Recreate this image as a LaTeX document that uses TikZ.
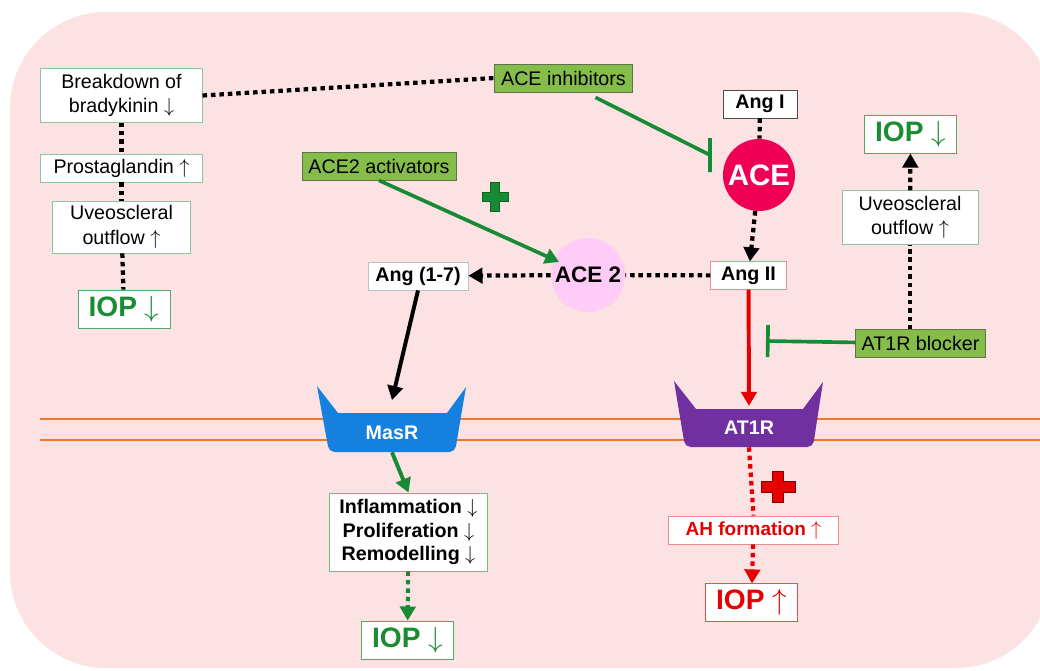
\documentclass[tikz,border=0pt]{standalone}
\usepackage{fontspec}
\setmainfont{Liberation Sans}
\usetikzlibrary{arrows.meta, calc}

\definecolor{bgPink}{RGB}{253,226,228}
\definecolor{drugGreen}{RGB}{134,189,74}
\definecolor{drugEdge}{RGB}{95,115,75}
\definecolor{lineGreen}{RGB}{22,138,52}
\definecolor{iopGreen}{RGB}{26,140,50}
\definecolor{boxEdge}{RGB}{140,195,160}
\definecolor{aceRed}{RGB}{240,0,84}
\definecolor{acePink}{RGB}{255,204,247}
\definecolor{masBlue}{RGB}{22,128,222}
\definecolor{atPurple}{RGB}{112,48,160}
\definecolor{pathRed}{RGB}{230,0,0}
\definecolor{redEdge}{RGB}{235,140,140}
\definecolor{membrane}{RGB}{240,120,40}

\newcommand{\arrDown}{~$\downarrow$}
\newcommand{\arrUp}{~$\uparrow$}

\begin{document}
\begin{tikzpicture}[
    x=0.025cm, y=-0.025cm,
    infoBox/.style = {draw=boxEdge, fill=white, rectangle, inner sep=0pt, align=center, line width=0.6pt, font=\fontsize{14}{17.5}\selectfont},
    angBox/.style = {infoBox, font=\fontsize{14}{17}\selectfont\bfseries},
    iopBox/.style = {infoBox, draw=iopGreen!75, text=iopGreen, font=\fontsize{20}{24}\selectfont\bfseries},
    drugBox/.style = {draw=drugEdge, fill=drugGreen, rectangle, inner sep=0pt, line width=0.6pt, font=\fontsize{14}{17}\selectfont},
    enzyme/.style = {circle, inner sep=0pt, font=\bfseries},
    receptor/.style = {rectangle, inner sep=0pt, text=white, font=\fontsize{14}{17}\selectfont\bfseries},
    dotLink/.style = {line width=3pt, dash pattern=on 3.2pt off 2.8pt},
    arrowHead/.style = {-{Triangle[length=10pt, width=11pt]}},
    inhibit/.style = {draw=lineGreen, line width=2.6pt},
    solidLink/.style = {line width=2.8pt}
]
\useasboundingbox (0,0) rectangle (1040,671);
\fill[bgPink, rounded corners=2.4cm] (10,12) rectangle (1052,668);

% membrane
\draw[membrane, line width=1.4pt] (40,419) -- (1040,419);
\draw[membrane, line width=1.4pt] (40,440) -- (1040,440);

% left column
\node(Breakdown)[infoBox, minimum width=4.03cm, minimum height=1.33cm] at (121.5,95.5) {Breakdown of\\bradykinin\arrDown};
\node(Prostaglandin)[infoBox, minimum width=4.03cm, minimum height=0.7cm] at (121.5,168) {Prostaglandin\arrUp};
\node(UveoLeft)[infoBox, minimum width=3.43cm, minimum height=1.3cm] at (121.5,227) {Uveoscleral\\outflow\arrUp};
\node(IopLeft)[iopBox, minimum width=2.3cm, minimum height=0.95cm] at (124,309) {IOP\arrDown};

\draw[dotLink] (Breakdown) -- (Prostaglandin);
\draw[dotLink] (Prostaglandin) -- (UveoLeft);
\draw[dotLink] (UveoLeft) -- (IopLeft);

% drugs
\node(AceInhibitors)[drugBox, minimum width=3.43cm, minimum height=0.7cm] at (563.5,78) {ACE inhibitors};
\node(Ace2Activators)[drugBox, minimum width=3.85cm, minimum height=0.7cm] at (379,166) {ACE2 activators};
\node(At1rBlocker)[drugBox, minimum width=3.23cm, minimum height=0.68cm] at (920.5,343.5) {AT1R blocker};

\draw[dotLink] (Breakdown.east) -- (AceInhibitors.west);

% enzymes and peptides
\node(AngI)[angBox, draw=black!70, minimum width=1.85cm, minimum height=0.7cm] at (760,104) {Ang I};
\node(Ace)[enzyme, fill=aceRed, text=white, minimum size=1.8cm, font=\fontsize{21}{24}\selectfont\bfseries] at (759,175) {ACE};
\node(AngII)[angBox, draw=redEdge, minimum width=1.88cm, minimum height=0.68cm] at (748.5,275.5) {Ang II};
\node(Ace2)[enzyme, fill=acePink, minimum size=1.85cm, font=\fontsize{16}{19}\selectfont\bfseries] at (588,275) {ACE 2};
\node(Ang17)[angBox, draw=black!25, minimum width=2.5cm, minimum height=0.7cm] at (418,276) {Ang (1-7)};

\draw[dotLink] (AngI) -- (Ace);
\draw[dotLink, arrowHead] (Ace) -- (AngII);
\draw[dotLink] (AngII) -- (Ace2);
\draw[dotLink, arrowHead] (Ace2) -- (Ang17);

\coordinate (AceBlock) at (710,155);
\draw[inhibit] ($(AceInhibitors.south)+(32,5)$) -- (AceBlock) ++(0,-17) -- ++(0,34);
\draw[inhibit, arrowHead, shorten >=-4pt] (Ace2Activators.south) -- (Ace2);

% plus signs
\fill[lineGreen, draw=lineGreen!70!black, line width=0.4pt, shift={(495,197)}]
    (-4.5,-14.5) -- (4.5,-14.5) -- (4.5,-4.5) -- (13,-4.5) -- (13,4.5) -- (4.5,4.5)
    -- (4.5,14.5) -- (-4.5,14.5) -- (-4.5,4.5) -- (-13,4.5) -- (-13,-4.5) -- (-4.5,-4.5) -- cycle;
\fill[pathRed, draw=pathRed!60!black, line width=0.4pt, shift={(778,487)}]
    (-5.5,-15.5) -- (5.5,-15.5) -- (5.5,-5.5) -- (17,-5.5) -- (17,5.5) -- (5.5,5.5)
    -- (5.5,15.5) -- (-5.5,15.5) -- (-5.5,5.5) -- (-17,5.5) -- (-17,-5.5) -- (-5.5,-5.5) -- cycle;

% receptors
\fill[masBlue] (317,386) -- (338,413) -- (447,413) -- (466,387) -- (460.5,419)
    [rounded corners=4pt] -- (455,452) -- (329,452) -- (323,419) [sharp corners] -- cycle;
\node(MasR)[receptor, minimum width=3.15cm, minimum height=0.975cm] at (392,432.5) {MasR};
\fill[atPurple] (674,381) -- (696,409) -- (803,409) -- (823,382) -- (818,414)
    [rounded corners=4pt] -- (813,447) -- (685,447) -- (679.5,414) [sharp corners] -- cycle;
\node(AT1R)[receptor, minimum width=3.2cm, minimum height=0.95cm] at (749,428) {AT1R};

\draw[solidLink, arrowHead] (Ang17.south) -- ([yshift=9pt]MasR.north);
\draw[solidLink, pathRed, arrowHead] (AngII) -- ([yshift=2pt]AT1R.north);

% right column
\node(UveoRight)[infoBox, minimum width=3.4cm, minimum height=1.33cm] at (910,217.5) {Uveoscleral\\outflow\arrUp};
\node(IopRight)[iopBox, minimum width=2.28cm, minimum height=0.93cm] at (910.5,134.5) {IOP\arrDown};

\coordinate (At1rBlock) at (766,341);
\draw[inhibit, -{Bar[width=23pt]}] (At1rBlocker) -- (At1rBlock);
\draw[dotLink] (At1rBlocker.north -| UveoRight.south) -- (UveoRight.south);
\draw[dotLink, arrowHead] (UveoRight) -- (IopRight);

% below the membrane
\node(Inflammation)[angBox, draw=iopGreen!60, minimum width=3.93cm, minimum height=1.95cm, font=\fontsize{14}{16.7}\selectfont\bfseries] at (408.5,532)
    {Inflammation\arrDown\\Proliferation\arrDown\\Remodelling\arrDown};
\node(IopBottom)[iopBox, minimum width=2.28cm, minimum height=0.95cm] at (407.5,640) {IOP\arrDown};
\node(AhFormation)[angBox, draw=redEdge, text=pathRed, minimum width=4.23cm, minimum height=0.7cm, font=\fontsize{13.5}{16}\selectfont\bfseries] at (753.5,530) {AH formation\arrUp};
\node(IopUp)[iopBox, draw=pathRed!70, text=pathRed, minimum width=2.28cm, minimum height=0.93cm] at (751.5,602.5) {IOP\arrUp};

\draw[solidLink, lineGreen, arrowHead] (MasR.south) -- (Inflammation.north);
\draw[dotLink, lineGreen, arrowHead] (Inflammation) -- (IopBottom);
\draw[dotLink, pathRed] (AT1R.south) -- (AhFormation.north);
\draw[dotLink, pathRed, arrowHead] (AhFormation) -- (IopUp);
\end{tikzpicture}
\end{document}
